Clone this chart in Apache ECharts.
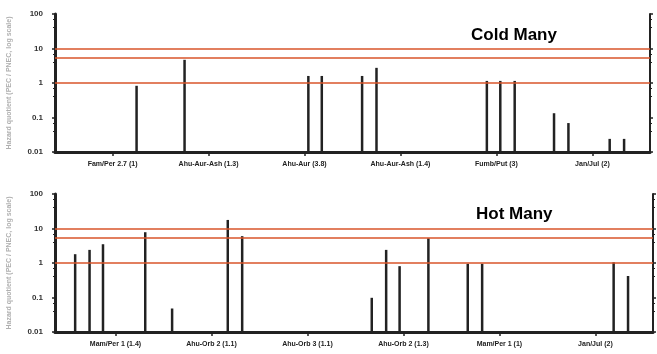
<!DOCTYPE html>
<html>
<head>
<meta charset="utf-8">
<script src="https://cdn.jsdelivr.net/npm/echarts@6/dist/echarts.min.js"></script>
<style>
  html, body { margin: 0; padding: 0; background: #fff; }
  #container { width: 657px; height: 354px; }
</style>
</head>
<body>
<div id="container"></div>
<script>
// category labels (tick positions 0..5 on the x scale)
var coldCategories = ["Fam/Per 2.7 (1)", "Ahu-Aur-Ash (1.3)", "Ahu-Aur (3.8)", "Ahu-Aur-Ash (1.4)", "Fumb/Put (3)", "Jan/Jul (2)"];
var hotCategories = ["Mam/Per 1 (1.4)", "Ahu-Orb 2 (1.1)", "Ahu-Orb 3 (1.1)", "Ahu-Orb 2 (1.3)", "Mam/Per 1 (1)", "Jan/Jul (2)"];

// cold panel: x position (category units) and value
var coldX = [0.25, 0.75, 2.04, 2.18, 2.6, 2.75, 3.9, 4.04, 4.19, 4.6, 4.75, 5.18, 5.33];
var coldY = [0.83, 4.7, 1.6, 1.6, 1.6, 2.75, 1.15, 1.15, 1.15, 0.133, 0.069, 0.024, 0.024];

// hot panel
var hotX = [-0.42, -0.27, -0.13, 0.31, 0.59, 1.17, 1.32, 2.67, 2.82, 2.96, 3.26, 3.67, 3.82, 5.19, 5.34];
var hotY = [1.8, 2.4, 3.5, 7.8, 0.048, 17.7, 6.0, 0.098, 2.4, 0.81, 5.2, 0.95, 0.95, 1.05, 0.42];

// reference lines
var thresholds = [10, 5.5, 1];
var yTicks = [0.01, 0.1, 1, 10, 100];

var dom = document.getElementById("container");
var myChart = echarts.init(dom, null, { renderer: "canvas" });

function toPairs(xs, ys) {
  return xs.map(function (x, i) {
    return [x, ys[i]];
  });
}

// draws one vertical stick from the axis floor up to the value
function stick(params, api) {
  var bottom = api.coord([api.value(0), yTicks[0]]);
  var top = api.coord([api.value(0), api.value(1)]);
  return {
    type: "line",
    shape: { x1: top[0], y1: bottom[1], x2: top[0], y2: top[1] },
    style: { stroke: "#222", lineWidth: 2.5 },
  };
}

function xAxisFor(grid, cats, min, max) {
  return {
    gridIndex: grid,
    type: "value",
    min: min,
    max: max,
    splitLine: { show: false },
    axisLine: { onZero: false, lineStyle: { color: "#222", width: 3 } },
    axisTick: { customValues: [0, 1, 2, 3, 4, 5], length: 4, lineStyle: { color: "#222", width: 1.5 } },
    axisLabel: {
      customValues: [0, 1, 2, 3, 4, 5],
      formatter: function (v) {
        return cats[Math.round(v)];
      },
      fontSize: 7,
      fontWeight: "bold",
      color: "#222",
      margin: 9,
      fontFamily: "Liberation Sans",
    },
  };
}

function yAxisFor(grid, right) {
  return {
    gridIndex: grid,
    type: "log",
    logBase: 10,
    min: 0.01,
    max: 100,
    position: right ? "right" : "left",
    name: right ? "" : "Hazard quotient (PEC / PNEC, log scale)",
    nameLocation: "middle",
    nameGap: 42,
    nameTextStyle: { fontSize: 7, color: "#b0b0b0", fontWeight: "bold" },
    splitLine: { show: false },
    axisLine: { show: true, onZero: false, lineStyle: { color: "#222", width: right ? 2 : 3 } },
    axisTick: { show: true, length: 3, lineStyle: { color: "#222", width: 1.5 } },
    minorTick: { show: true, splitNumber: 3, length: 2, lineStyle: { color: "#222" } },
    axisLabel: {
      show: !right,
      fontSize: 8,
      fontWeight: "bold",
      color: "#333",
      margin: 12,
      fontFamily: "Liberation Sans",
    },
  };
}

var refLines = {
  silent: true,
  symbol: "none",
  label: { show: false },
  lineStyle: { color: "#d9552a", width: 1.5, type: "solid" },
  data: thresholds.map(function (t) {
    return { yAxis: t };
  }),
};

var option = {
  animation: false,
  backgroundColor: "#fff",
  title: [
    {
      text: "Cold Many",
      left: 466,
      top: 22,
      textStyle: { fontSize: 17, fontWeight: "bold", color: "#000", fontFamily: "Liberation Sans" },
    },
    {
      text: "Hot Many",
      left: 471,
      top: 201,
      textStyle: { fontSize: 17, fontWeight: "bold", color: "#000", fontFamily: "Liberation Sans" },
    },
  ],
  grid: [
    { left: 55, top: 14, width: 595, height: 138, outerBoundsMode: "none" },
    { left: 55, top: 194, width: 598, height: 138, outerBoundsMode: "none" },
  ],
  xAxis: [
    xAxisFor(0, coldCategories, -0.6, 5.6),
    xAxisFor(1, hotCategories, -0.63, 5.6),
  ],
  yAxis: [yAxisFor(0, false), yAxisFor(0, true), yAxisFor(1, false), yAxisFor(1, true)],
  series: [
    {
      type: "custom",
      xAxisIndex: 0,
      yAxisIndex: 0,
      renderItem: stick,
      data: toPairs(coldX, coldY),
      markLine: refLines,
    },
    {
      type: "custom",
      xAxisIndex: 1,
      yAxisIndex: 2,
      renderItem: stick,
      data: toPairs(hotX, hotY),
      markLine: refLines,
    },
  ],
};

myChart.setOption(option);
window.addEventListener("resize", myChart.resize);
</script>
</body>
</html>
